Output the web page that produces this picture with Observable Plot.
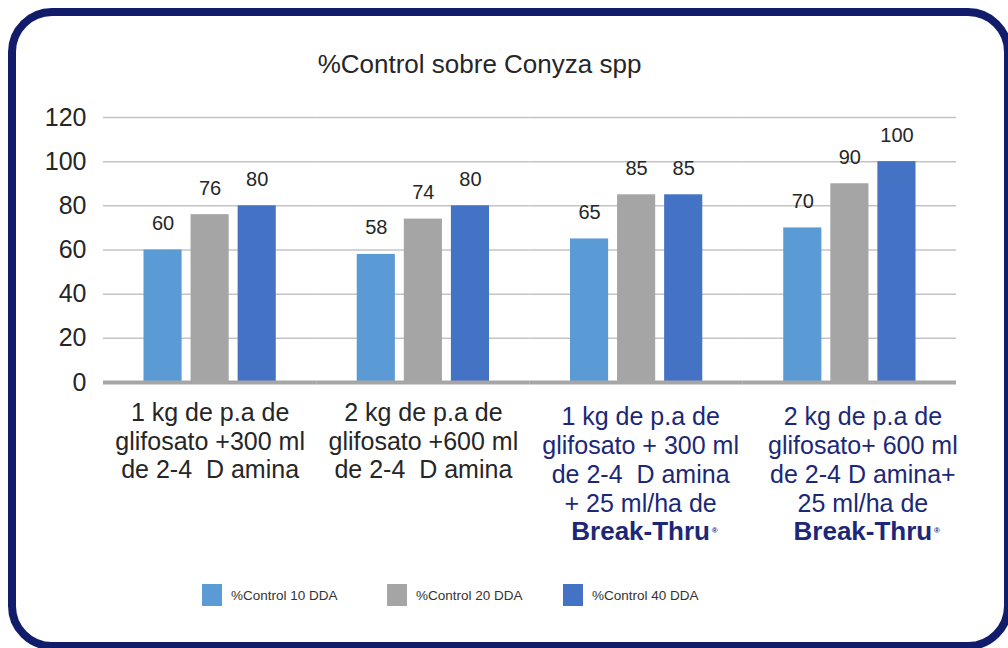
<!DOCTYPE html>
<html><head><meta charset="utf-8">
<script src="https://cdn.jsdelivr.net/npm/d3@7"></script>
<script src="https://cdn.jsdelivr.net/npm/@observablehq/plot@0.6"></script>
<style>
html,body{margin:0;padding:0;background:#fff;}
#wrap{position:relative;width:1008px;height:648px;overflow:hidden;font-family:"Liberation Sans",Arial,sans-serif;}
#frame{position:absolute;left:8px;top:8px;width:1004px;height:642px;box-sizing:border-box;border:8px solid #111c6b;border-radius:44px;}
#title{position:absolute;left:0;top:51px;width:959px;text-align:center;font-size:26px;line-height:26px;color:#262626;}
#chart{position:absolute;left:0;top:90px;}
#chart svg text{white-space:pre;}
.leg{position:absolute;top:584px;height:22px;display:flex;align-items:center;font-size:13.5px;color:#333;white-space:nowrap;}
.sw{width:20px;height:22px;margin-right:9px;}
</style></head><body>
<div id="wrap"><div id="frame"></div><div id="title"></div><div id="chart"></div></div>
<script>
const title = "%Control sobre Conyza spp";
const categories = [
  "1 kg de p.a de\nglifosato +300 ml\nde 2-4  D amina",
  "2 kg de p.a de\nglifosato +600 ml\nde 2-4  D amina",
  "1 kg de p.a de\nglifosato + 300 ml\nde 2-4  D amina\n+ 25 ml/ha de",
  "2 kg de p.a de\nglifosato+ 600 ml\nde 2-4 D amina+\n25 ml/ha de"
];
const adjuvant = ["", "", "Break-Thru", "Break-Thru"];
const series = ["%Control 10 DDA", "%Control 20 DDA", "%Control 40 DDA"];
const control10 = [60, 58, 65, 70];
const control20 = [76, 74, 85, 90];
const control40 = [80, 80, 85, 100];
const yTicks = [0, 20, 40, 60, 80, 100, 120];

const colors = ["#5b9bd5", "#a5a5a5", "#4472c4"];
const navy = "#1c2877";
const ink = "#262626";
const productShift = [4, 13]; // horizontal label offsets (px) for the two product groups

const seriesValues = [control10, control20, control40];
const rows = [];
categories.forEach((c, i) => series.forEach((s, j) => rows.push({group: c, series: s, value: seriesValues[j][i]})));
const plainLabels = categories.filter((c, i) => !adjuvant[i]);
const productRows = categories.map((c, i) => ({group: c, name: adjuvant[i]})).filter(d => d.name);

document.getElementById("title").textContent = title;

const productMarks = productRows.flatMap((r, k) => [
  Plot.text([r], {fx: "group", text: "group", frameAnchor: "bottom", lineAnchor: "top", dx: productShift[k], dy: 22, lineHeight: 1.16, fontSize: 25, fill: navy}),
  Plot.text([r], {fx: "group", text: "name", frameAnchor: "bottom", lineAnchor: "top", dx: productShift[k], dy: 139, fontSize: 26, fontWeight: "bold", fill: navy}),
  Plot.text([r], {fx: "group", text: () => "®", frameAnchor: "bottom", lineAnchor: "middle", textAnchor: "start", dx: productShift[k] + 71, dy: 148, fontSize: 8, fontWeight: "bold", fill: navy})
]);

const chart = Plot.plot({
  width: 1008,
  height: 470,
  marginTop: 27,
  marginBottom: 178,
  marginLeft: 103,
  marginRight: 52,
  style: {fontFamily: "'Liberation Sans', Arial, sans-serif", fontSize: "25px", color: ink, background: "transparent", overflow: "visible"},
  fx: {domain: categories, padding: 0, axis: null, label: null, round: false},
  x: {domain: series, paddingInner: 0.19, paddingOuter: 0.86, axis: null, round: false},
  y: {domain: [0, 120], ticks: yTicks, tickSize: 0, tickPadding: 17, label: null, grid: false},
  color: {domain: series, range: colors},
  marks: [
    Plot.ruleY(yTicks, {stroke: "#c4c4c4", strokeWidth: 1.5}),
    Plot.barY(rows, {fx: "group", x: "series", y: "value", fill: "series"}),
    Plot.ruleY([0], {stroke: "#a6a6a6", strokeWidth: 4}),
    Plot.text(rows, {fx: "group", x: "series", y: "value", text: d => String(d.value), lineAnchor: "bottom", dy: -20, fontSize: 20, fill: ink}),
    Plot.text(plainLabels, {fx: d => d, text: d => d, frameAnchor: "bottom", lineAnchor: "top", dy: 18, lineHeight: 1.15, fontSize: 25, fill: ink}),
    ...productMarks
  ]
});
document.getElementById("chart").appendChild(chart);

const legendX = [202, 387, 563];
const wrap = document.getElementById("wrap");
series.forEach((s, j) => {
  const item = document.createElement("div");
  item.className = "leg";
  item.style.left = legendX[j] + "px";
  const sw = document.createElement("div");
  sw.className = "sw";
  sw.style.background = colors[j];
  const t = document.createElement("span");
  t.textContent = s;
  item.appendChild(sw);
  item.appendChild(t);
  wrap.appendChild(item);
});
</script>
</body></html>
